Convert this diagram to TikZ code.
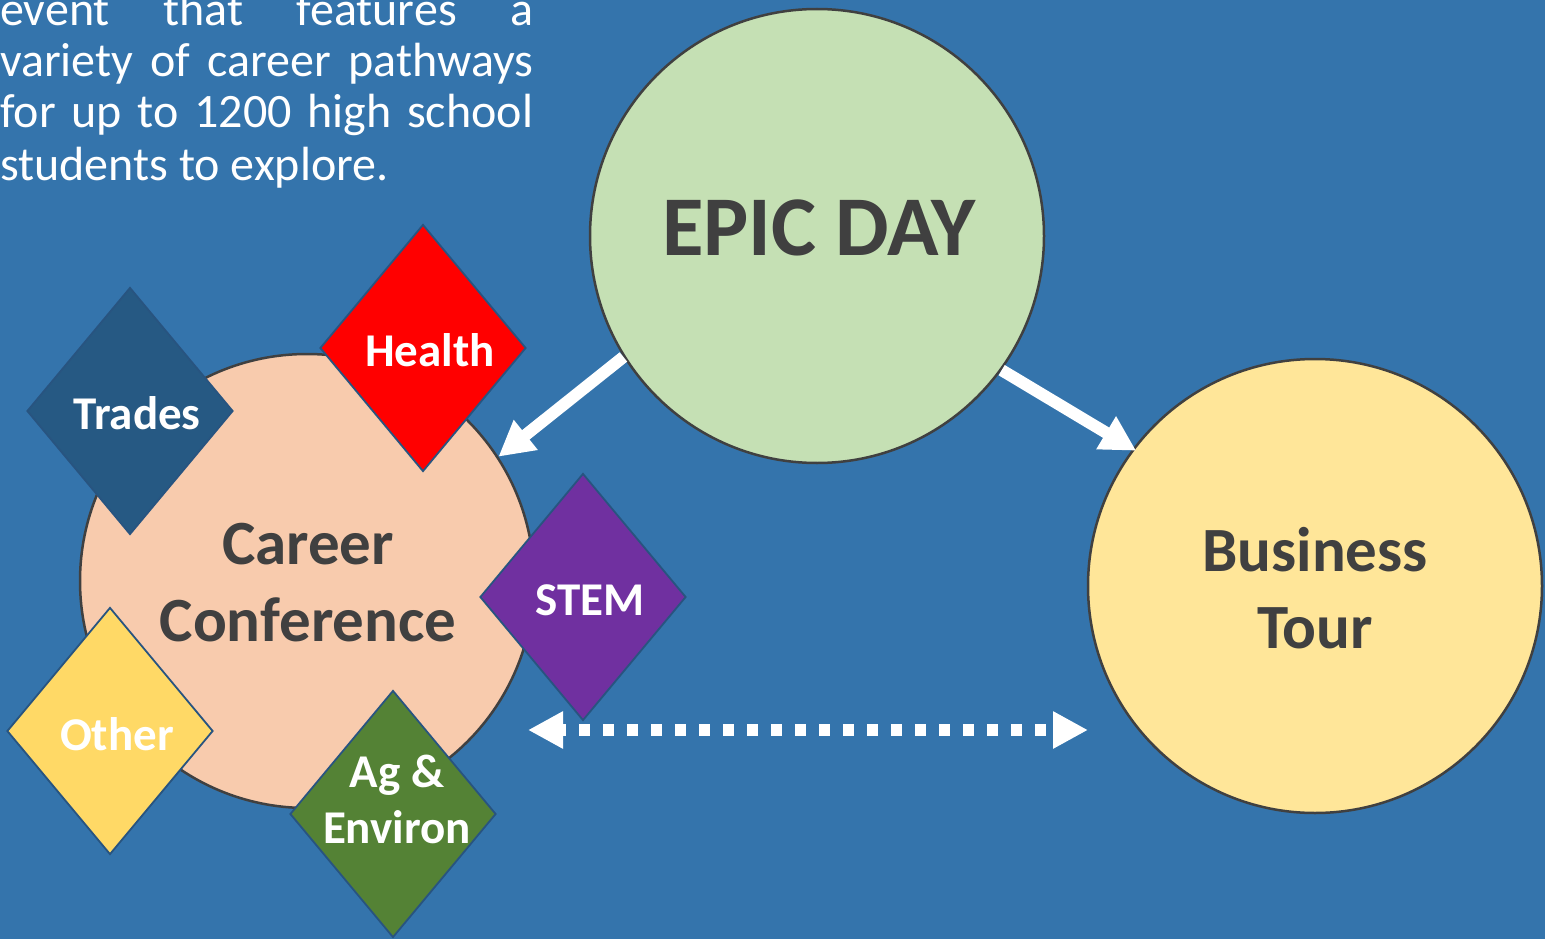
\documentclass[tikz,border=0pt]{standalone}
\usepackage{fontspec}
\setmainfont{Carlito}
\usetikzlibrary{arrows.meta,shapes.geometric}
\definecolor{bg}{RGB}{52,116,172}
\definecolor{epicfill}{RGB}{197,224,180}
\definecolor{busfill}{RGB}{255,230,153}
\definecolor{carfill}{RGB}{248,203,173}
\definecolor{rimgray}{RGB}{64,64,64}
\definecolor{txtgray}{RGB}{64,64,64}
\definecolor{diaedge}{RGB}{40,84,128}
\definecolor{tradesfill}{RGB}{38,89,131}
\definecolor{healthfill}{RGB}{255,0,0}
\definecolor{stemfill}{RGB}{112,48,160}
\definecolor{otherfill}{RGB}{255,217,102}
\definecolor{agfill}{RGB}{84,130,53}
\tikzset{
  circ/.style={circle, draw=rimgray, line width=2.5pt, minimum size=454pt, inner sep=0pt},
  dia/.style={diamond, draw=diaedge, line width=1.8pt, minimum width=206pt, minimum height=247pt, inner sep=0pt},
  dlab/.style={text=white, font=\bfseries\fontsize{47}{56}\selectfont, align=center, inner sep=0pt},
  clab/.style={text=txtgray, font=\bfseries\fontsize{63}{77}\selectfont, align=center, inner sep=0pt},
  bodytxt/.style={text=white, font=\fontsize{48}{52}\selectfont, anchor=base west, inner sep=0pt},
  bigarrow/.style={draw=white, line width=12pt, -{Triangle[length=35pt,width=36pt]}},
  dotarrow/.style={draw=white, line width=12pt, dash pattern=on 11pt off 13pt, dash phase=6pt,
    {Triangle[length=35pt,width=35pt]}-{Triangle[length=35pt,width=35pt]}}
}
\begin{document}
\begin{tikzpicture}[x=1pt,y=-1pt]
\useasboundingbox (0,0) rectangle (1545,939);
\fill[bg] (0,0) rectangle (1545,939);

% intro text
\node[bodytxt] (t1) at (0,26) {\makebox[533pt][s]{event that features a}};
\node[bodytxt] (t2) at (0,77) {\makebox[533pt][s]{variety of career pathways}};
\node[bodytxt] (t3) at (0,128) {\makebox[533pt][s]{for up to 1200 high school}};
\node[bodytxt] (t4) at (0,180) {students to explore.};

% circles
\node[circ, fill=epicfill] (epic) at (817,236) {};
\node[text=txtgray, font=\bfseries\fontsize{85}{90}\selectfont, inner sep=0pt] (epicT) at (819,228) {EPIC DAY};
\node[circ, fill=busfill] (bus) at (1315,586) {};
\node[clab] (busT) at (1315,588) {Business\\Tour};
\node[circ, fill=carfill] (career) at (307,581) {};
\node[clab] (careerT) at (308,583) {Career\\Conference};

% diamonds
\node[dia, fill=tradesfill] (trades) at (130,411) {};
\node[dlab] (tradesT) at (137,413) {Trades};
\node[dia, fill=healthfill] (health) at (423,348) {};
\node[dlab] (healthT) at (430,350) {Health};
\node[dia, fill=stemfill] (stem) at (583,597) {};
\node[dlab] (stemT) at (590,600) {STEM};
\node[dia, fill=otherfill] (other) at (110,731) {};
\node[dlab] (otherT) at (117,734) {Other};
\node[dia, fill=agfill] (ag) at (393,814) {};
\node[dlab] (agT) at (397,799) {Ag \&\\Environ};

% arrows
\draw[bigarrow] (epic.212) -- (career.33);
\draw[bigarrow, shorten >=-4pt] (epic.324) -- (bus.143);
\coordinate (dl) at (528,730);
\coordinate (dr) at (1088,730);
\draw[dotarrow] (dl) -- (dr);
\end{tikzpicture}
\end{document}
